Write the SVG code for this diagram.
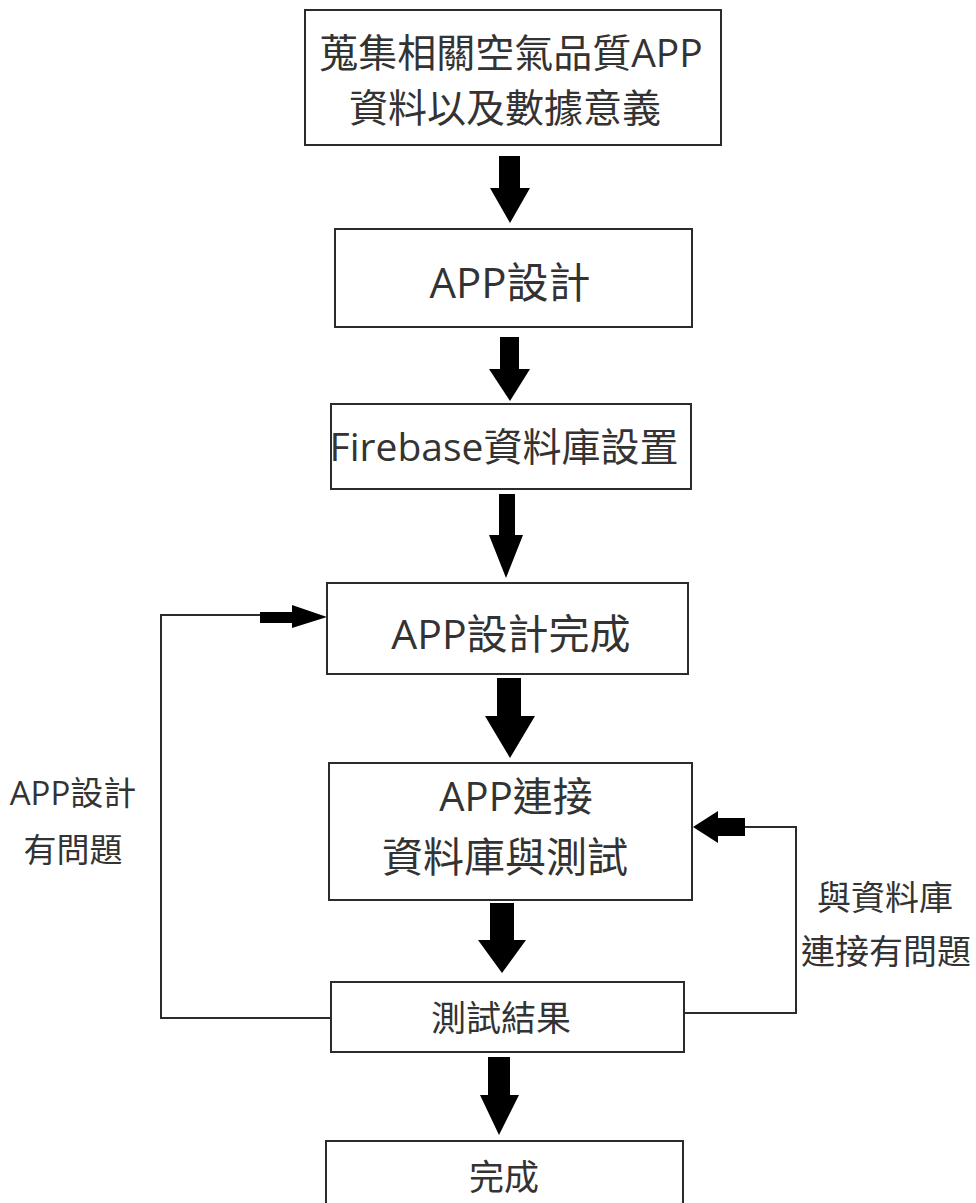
<svg xmlns="http://www.w3.org/2000/svg" width="976" height="1203" viewBox="0 0 976 1203">
<style>
.box{fill:#fff;stroke:#2b2b2b;stroke-width:2}
.t{font-family:"Open Sans","Noto Sans CJK TC",sans-serif;fill:#333;text-anchor:middle}
.ln{fill:none;stroke:#2b2b2b;stroke-width:2}
.ar{fill:#000}
</style>
<rect x="0" y="0" width="976" height="1203" fill="#fff"/>
<g id="connectors">
<polygon class="ar" points="499,156 520,156 520,188 530,188 510,223 490,188 499,188"/>
<polygon class="ar" points="500,337 519,337 519,369 530,369 510,401 489,369 500,369"/>
<polygon class="ar" points="499,494 515,494 515,535 523,535 506,578 489,535 499,535"/>
<polygon class="ar" points="497,678 521,678 521,716 535,716 510,758 485,716 497,716"/>
<polygon class="ar" points="490,903 514,903 514,940 526,940 502,973 478,940 490,940"/>
<polygon class="ar" points="488,1057 510,1057 510,1095 519,1095 499,1135 480,1095 488,1095"/>
<polyline class="ln" points="331,1018 161,1018 161,615 262,615"/>
<polygon class="ar" points="260,612 292,612 292,605 327,617 292,628 292,623 260,623"/>
<polyline class="ln" points="684,1013 796,1013 796,827 743,827"/>
<polygon class="ar" points="745,818 718,818 718,811 693,827 718,843 718,836 745,836"/>
<text class="t" x="73" y="805" font-size="33">APP設計</text>
<text class="t" x="73" y="862" font-size="33">有問題</text>
<text class="t" x="885" y="910" font-size="34">與資料庫</text>
<text class="t" x="886" y="964" font-size="34">連接有問題</text>
</g>
<g id="n1">
<rect class="box" x="305" y="10" width="416" height="135"/>
<text class="t" x="511" y="67" font-size="39">蒐集相關空氣品質APP</text>
<text class="t" x="505" y="122" font-size="39">資料以及數據意義</text>
</g>
<g id="n2">
<rect class="box" x="335" y="229" width="357" height="98"/>
<text class="t" x="510" y="298" font-size="42">APP設計</text>
</g>
<g id="n3">
<rect class="box" x="331" y="404" width="360" height="85"/>
<text class="t" x="504" y="461" font-size="39">Firebase資料庫設置</text>
</g>
<g id="n4">
<rect class="box" x="327" y="583" width="361" height="91"/>
<text class="t" x="511" y="649" font-size="41">APP設計完成</text>
</g>
<g id="n5">
<rect class="box" x="329" y="763" width="363" height="137"/>
<text class="t" x="516" y="811" font-size="40">APP連接</text>
<text class="t" x="505" y="872" font-size="41">資料庫與測試</text>
</g>
<g id="n6">
<rect class="box" x="331" y="982" width="353" height="70"/>
<text class="t" x="501" y="1031" font-size="35">測試結果</text>
</g>
<g id="n7">
<rect class="box" x="326" y="1141" width="357" height="70"/>
<text class="t" x="504" y="1190" font-size="35">完成</text>
</g>
</svg>
